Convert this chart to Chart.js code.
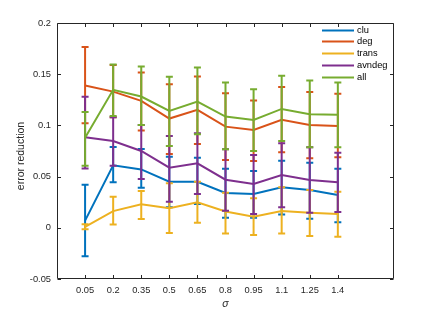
<!DOCTYPE html>
<html lang="en">
<head>
<meta charset="UTF-8">
<title>Error reduction vs sigma</title>
<script src="https://cdn.jsdelivr.net/npm/chart.js"></script>
<style>
  body { margin: 0; background: #fff; }
  #wrap { width: 436px; height: 314px; }
</style>
</head>
<body>
<div id="wrap"><canvas id="chart" width="436" height="314"></canvas></div>
<script>
// x categories and tick labels
const sigma = [0.05, 0.2, 0.35, 0.5, 0.65, 0.8, 0.95, 1.1, 1.25, 1.4];
const sigmaLabels = ['0.05', '0.2', '0.35', '0.5', '0.65', '0.8', '0.95', '1.1', '1.25', '1.4'];
const yTicks = [-0.05, 0, 0.05, 0.1, 0.15, 0.2];
const yTickLabels = ['-0.05', '0', '0.05', '0.1', '0.15', '0.2'];

// series: mean, upper end and lower end of the error bar
const cluMean = [0.007, 0.061, 0.057, 0.045, 0.045, 0.034, 0.033, 0.0395, 0.037, 0.032];
const cluHi   = [0.042, 0.079, 0.077, 0.0695, 0.0685, 0.0577, 0.0555, 0.0656, 0.0636, 0.0577];
const cluLo   = [-0.0277, 0.0444, 0.0391, 0.020, 0.0232, 0.0098, 0.0098, 0.0131, 0.0088, 0.0053];

const degMean = [0.139, 0.133, 0.124, 0.1067, 0.1152, 0.0988, 0.0956, 0.1054, 0.1005, 0.0995];
const degHi   = [0.1765, 0.159, 0.1517, 0.1403, 0.1478, 0.1315, 0.1243, 0.1374, 0.1325, 0.1308];
const degLo   = [0.102, 0.108, 0.0949, 0.0721, 0.0819, 0.0662, 0.0653, 0.0738, 0.0679, 0.0689];

const transMean = [0.001, 0.0163, 0.0229, 0.019, 0.0249, 0.016, 0.0108, 0.0163, 0.0147, 0.0134];
const transHi   = [0.0035, 0.0303, 0.0359, 0.0434, 0.045, 0.0343, 0.0288, 0.0395, 0.0369, 0.0352];
const transLo   = [-0.0015, 0.0033, 0.0085, -0.005, 0.0049, -0.0055, -0.0071, -0.0055, -0.0081, -0.0088];

const avndegMean = [0.0884, 0.0848, 0.075, 0.0587, 0.063, 0.047, 0.0428, 0.0516, 0.0467, 0.0444];
const avndegHi   = [0.128, 0.108, 0.1005, 0.0897, 0.0924, 0.0767, 0.0711, 0.0826, 0.0787, 0.0734];
const avndegLo   = [0.058, 0.0607, 0.0477, 0.0254, 0.033, 0.0166, 0.0134, 0.02, 0.0147, 0.0154];

const allMean = [0.088, 0.1347, 0.1282, 0.1142, 0.1233, 0.1086, 0.1054, 0.1161, 0.111, 0.1103];
const allHi   = [0.1132, 0.1595, 0.1575, 0.1475, 0.1566, 0.1419, 0.1354, 0.1484, 0.1438, 0.1419];
const allLo   = [0.0607, 0.1093, 0.1005, 0.08, 0.0914, 0.0767, 0.075, 0.0848, 0.0787, 0.0787];

const FONT = '"Liberation Sans", Arial, Helvetica, sans-serif';
const AXIS = '#262626';

function series(label, color, mean, hi, lo, order) {
    return {
        label: label,
        data: sigma.map((x, i) => ({ x: x, y: mean[i] })),
        hi: hi,
        lo: lo,
        borderColor: color,
        backgroundColor: color,
        borderWidth: 2,
        pointRadius: 0,
        tension: 0,
        fill: false,
        order: order
    };
}

// error bars drawn right after each line, through the chart scales
const errorBars = {
    id: 'errorBars',
    afterDatasetDraw(chart, args) {
        const ds = chart.data.datasets[args.index];
        const xs = chart.scales.x, ys = chart.scales.y;
        const ctx = chart.ctx;
        const cap = 3.5;
        ctx.save();
        ctx.strokeStyle = ds.borderColor;
        ctx.lineWidth = 2;
        ctx.beginPath();
        sigma.forEach((s, i) => {
            const px = xs.getPixelForValue(s);
            const top = ys.getPixelForValue(ds.hi[i]);
            const bot = ys.getPixelForValue(ds.lo[i]);
            ctx.moveTo(px, top); ctx.lineTo(px, bot);
            ctx.moveTo(px - cap, top); ctx.lineTo(px + cap, top);
            ctx.moveTo(px - cap, bot); ctx.lineTo(px + cap, bot);
        });
        ctx.stroke();
        ctx.restore();
    }
};

// MATLAB style box with inward ticks, axis titles and legend
const axesBox = {
    id: 'axesBox',
    afterDraw(chart) {
        const ctx = chart.ctx;
        const a = chart.chartArea;
        const xs = chart.scales.x, ys = chart.scales.y;
        const L = Math.round(a.left) + 0.5, R = Math.round(a.right) - 0.5;
        const T = Math.round(a.top) + 0.5, B = Math.round(a.bottom) - 0.5;
        const tl = 3.5;
        ctx.save();
        ctx.strokeStyle = AXIS;
        ctx.lineWidth = 1;
        ctx.beginPath();
        ctx.rect(L, T, R - L, B - T);
        sigma.forEach(s => {
            const px = Math.round(xs.getPixelForValue(s)) + 0.5;
            ctx.moveTo(px, B); ctx.lineTo(px, B - tl);
            ctx.moveTo(px, T); ctx.lineTo(px, T + tl);
        });
        yTicks.forEach(v => {
            const py = Math.round(ys.getPixelForValue(v)) + 0.5;
            ctx.moveTo(L, py); ctx.lineTo(L + tl, py);
            ctx.moveTo(R, py); ctx.lineTo(R - tl, py);
        });
        ctx.stroke();

        // axis titles
        ctx.fillStyle = AXIS;
        ctx.textAlign = 'center';
        ctx.textBaseline = 'middle';
        ctx.font = 'italic 10.5px ' + FONT;
        ctx.fillText('σ', (a.left + a.right) / 2, 304);
        ctx.save();
        ctx.translate(21, 156);
        ctx.rotate(-Math.PI / 2);
        ctx.font = '10.5px ' + FONT;
        ctx.fillText('error reduction', 0, 0);
        ctx.restore();

        // legend
        ctx.font = '9.3px ' + FONT;
        ctx.textAlign = 'left';
        chart.data.datasets.forEach((ds, i) => {
            const y = Math.round(29.5 + i * 11.8) + 0.5;
            ctx.strokeStyle = ds.borderColor;
            ctx.lineWidth = 2;
            ctx.beginPath();
            ctx.moveTo(322, y); ctx.lineTo(354, y);
            ctx.stroke();
            ctx.fillStyle = '#000';
            ctx.fillText(ds.label, 357, y);
        });
        ctx.restore();
    }
};

const ctx = document.getElementById('chart').getContext('2d');
const chart = new Chart(ctx, {
    type: 'line',
    data: {
        datasets: [
            series('clu', '#0072BD', cluMean, cluHi, cluLo, 5),
            series('deg', '#D95319', degMean, degHi, degLo, 4),
            series('trans', '#EDB120', transMean, transHi, transLo, 3),
            series('avndeg', '#7E2F8E', avndegMean, avndegHi, avndegLo, 2),
            series('all', '#77AC30', allMean, allHi, allLo, 1)
        ]
    },
    options: {
        responsive: false,
        devicePixelRatio: 1,
        animation: false,
        layout: { padding: { left: 0, right: 42, top: 23, bottom: 0 } },
        plugins: {
            legend: { display: false },
            tooltip: { enabled: false }
        },
        scales: {
            x: {
                type: 'linear',
                min: -0.1,
                max: 1.7,
                afterBuildTicks: s => { s.ticks = sigma.map(v => ({ value: v })); },
                afterFit: s => { s.height = 35; },
                grid: { display: false, drawTicks: false },
                border: { display: false },
                ticks: {
                    autoSkip: false,
                    maxRotation: 0,
                    padding: 6,
                    color: AXIS,
                    font: { family: FONT, size: 9.3 },
                    callback: (v, i) => sigmaLabels[i]
                }
            },
            y: {
                min: -0.05,
                max: 0.2,
                afterBuildTicks: s => { s.ticks = yTicks.map(v => ({ value: v })); },
                afterFit: s => { s.width = 57; },
                grid: { display: false, drawTicks: false },
                border: { display: false },
                ticks: {
                    padding: 6,
                    color: AXIS,
                    font: { family: FONT, size: 9.3 },
                    callback: (v, i) => yTickLabels[i]
                }
            }
        }
    },
    plugins: [errorBars, axesBox]
});
</script>
</body>
</html>
